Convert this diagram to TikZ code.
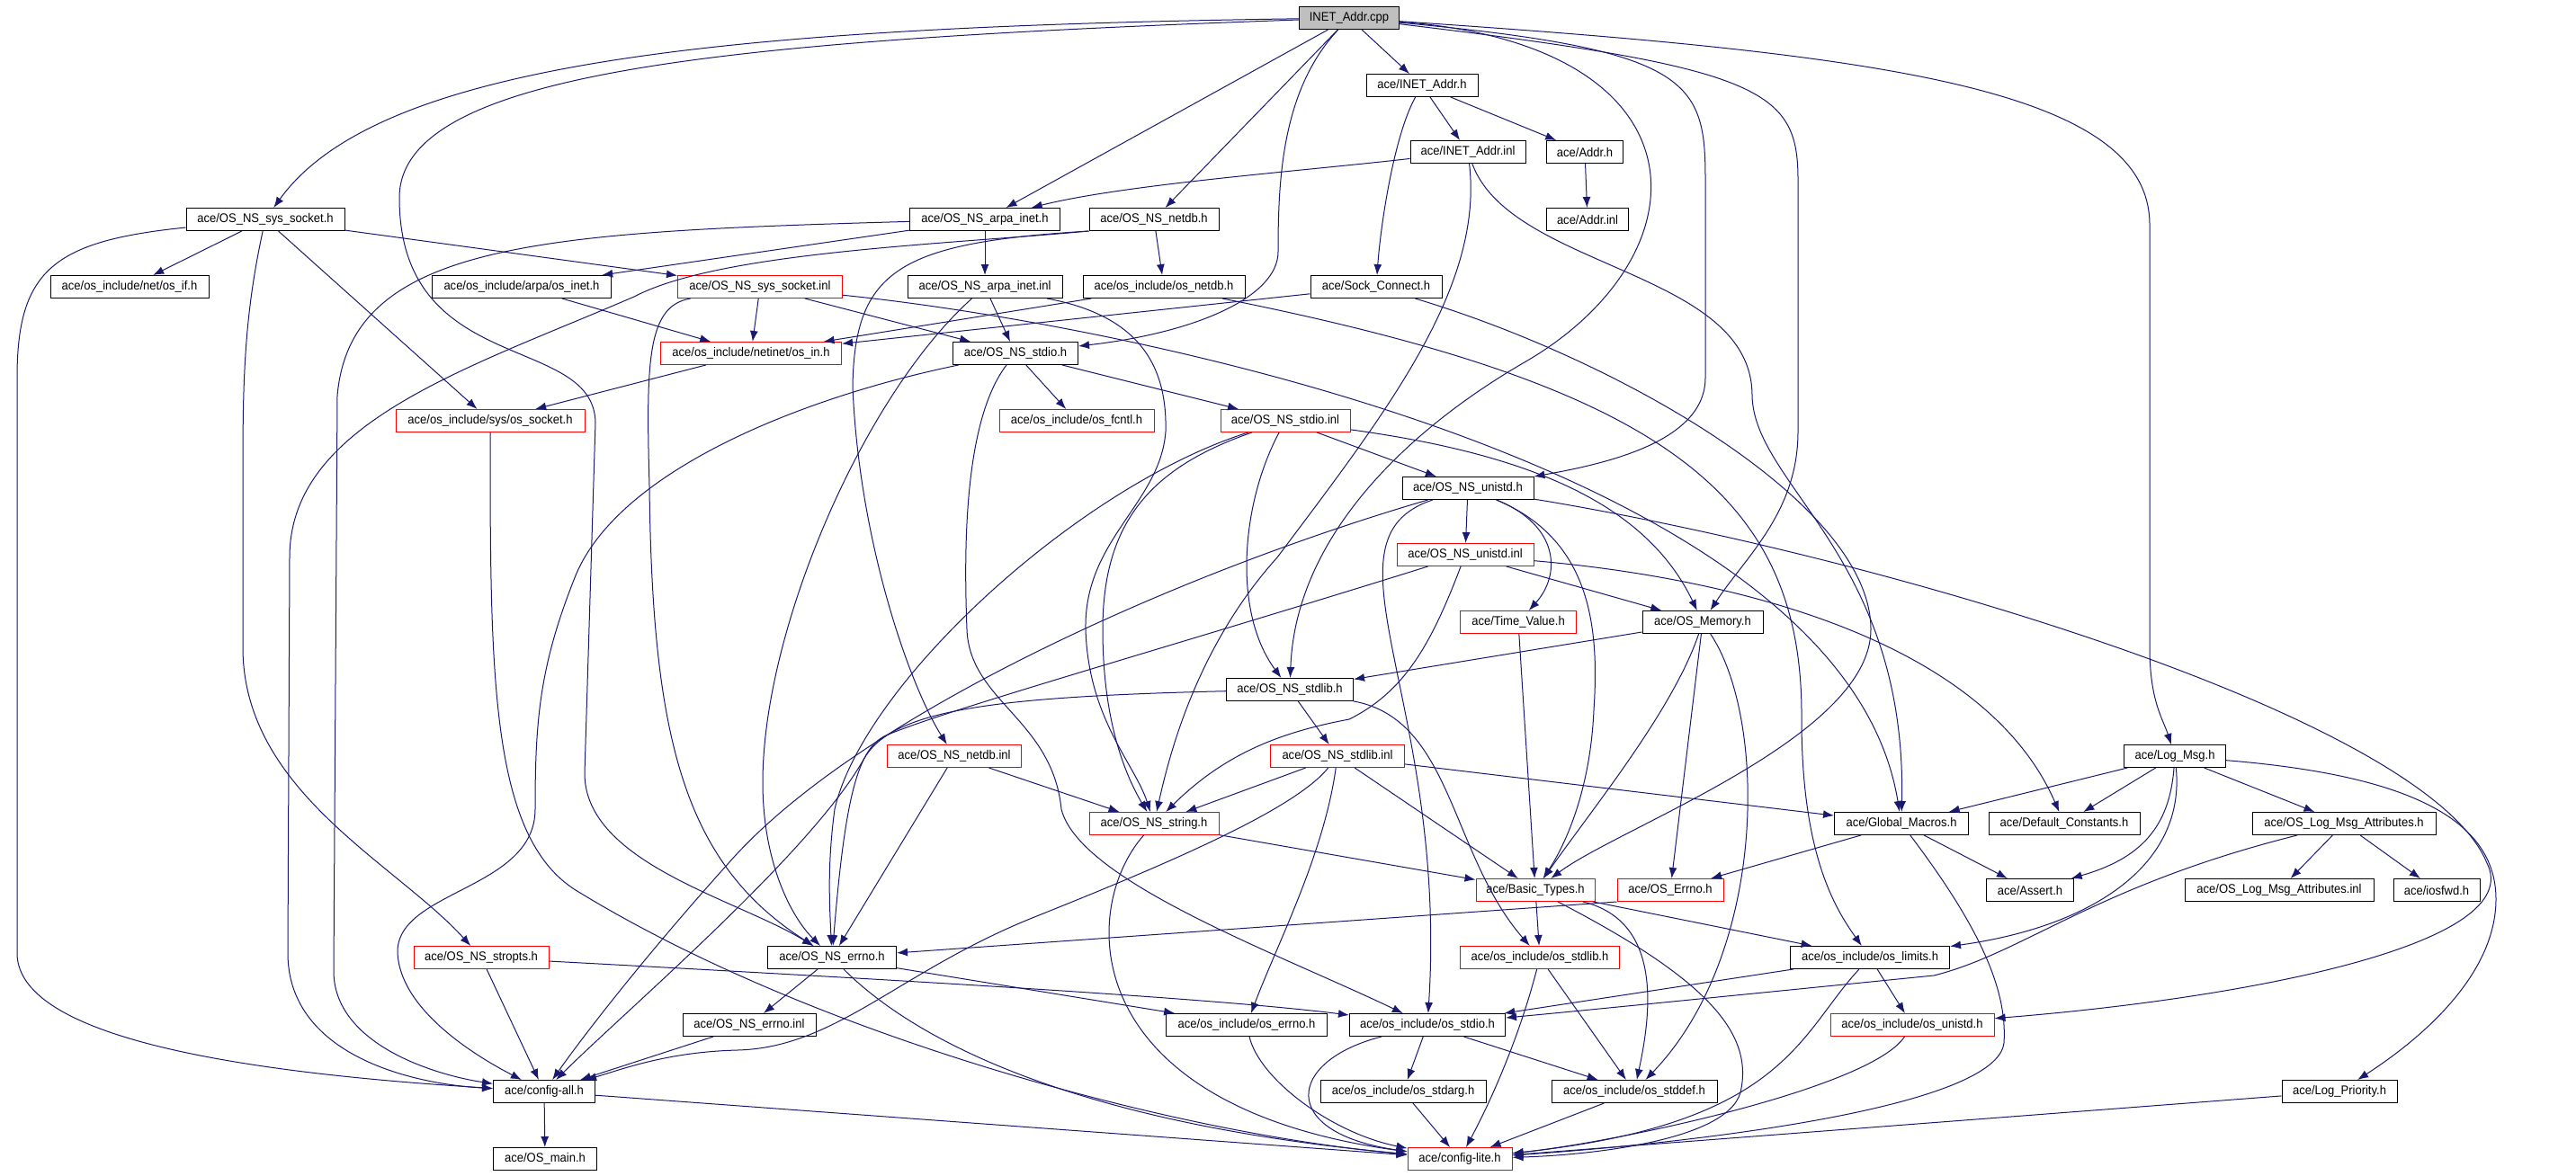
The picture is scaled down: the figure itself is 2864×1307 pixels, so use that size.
\documentclass[tikz,border=0pt]{standalone}
\usepackage{fontspec}
\setmainfont[FakeStretch=0.93]{Liberation Sans}
\usetikzlibrary{arrows.meta}
\definecolor{edgeblue}{RGB}{25,25,112}
\definecolor{rootgray}{RGB}{191,191,191}

\begin{document}
\begin{tikzpicture}[x=1pt,y=-1pt,
  hdr/.style={draw=black,line width=1pt,fill=white,minimum height=25pt,inner sep=0pt,font=\fontsize{14}{16}\selectfont},
  cut/.style={hdr,draw=red},
  wd/.style={minimum width=#1pt},
  inc/.style={draw=edgeblue,line width=1pt,-{Latex[length=12pt,width=9pt]}}]
\fill[white] (0,0) rectangle (2864,1307);
% files, row by row
\node[hdr,wd=111,fill=rootgray] (cpp) at (1500,20) {INET\_Addr.cpp};
\node[hdr,wd=124] (inetaddrh) at (1581,95) {ace/INET\_Addr.h};
\node[hdr,wd=128] (inetaddrinl) at (1632,169) {ace/INET\_Addr.inl};
\node[hdr,wd=85] (addrh) at (1762,169) {ace/Addr.h};
\node[hdr,wd=176] (syssockh) at (295,244) {ace/OS\_NS\_sys\_socket.h};
\node[hdr,wd=167] (arpah) at (1095,244) {ace/OS\_NS\_arpa\_inet.h};
\node[hdr,wd=144] (netdbh) at (1283,244) {ace/OS\_NS\_netdb.h};
\node[hdr,wd=91] (addrinl) at (1765,244) {ace/Addr.inl};
\node[hdr,wd=176] (osif) at (144,319) {ace/os\_include/net/os\_if.h};
\node[hdr,wd=199] (osinet) at (580,319) {ace/os\_include/arpa/os\_inet.h};
\node[cut,wd=183] (syssockinl) at (845,319) {ace/OS\_NS\_sys\_socket.inl};
\node[hdr,wd=172] (arpainl) at (1095,319) {ace/OS\_NS\_arpa\_inet.inl};
\node[hdr,wd=180] (osnetdb) at (1294,319) {ace/os\_include/os\_netdb.h};
\node[hdr,wd=146] (sockconn) at (1530,319) {ace/Sock\_Connect.h};
\node[cut,wd=201] (osin) at (835,393) {ace/os\_include/netinet/os\_in.h};
\node[hdr,wd=139] (stdioh) at (1129,393) {ace/OS\_NS\_stdio.h};
\node[cut,wd=210] (ossocket) at (545,468) {ace/os\_include/sys/os\_socket.h};
\node[cut,wd=172] (osfcntl) at (1197,468) {ace/os\_include/os\_fcntl.h};
\node[cut,wd=144] (stdioinl) at (1429,468) {ace/OS\_NS\_stdio.inl};
\node[hdr,wd=146] (unistdh) at (1632,543) {ace/OS\_NS\_unistd.h};
\node[cut,wd=152] (unistdinl) at (1629,617) {ace/OS\_NS\_unistd.inl};
\node[cut,wd=129] (timevalue) at (1688,692) {ace/Time\_Value.h};
\node[hdr,wd=134] (memory) at (1893,692) {ace/OS\_Memory.h};
\node[hdr,wd=141] (stdlibh) at (1434,767) {ace/OS\_NS\_stdlib.h};
\node[cut,wd=149] (netdbinl) at (1061,841) {ace/OS\_NS\_netdb.inl};
\node[cut,wd=149] (stdlibinl) at (1487,841) {ace/OS\_NS\_stdlib.inl};
\node[hdr,wd=113] (logmsg) at (2418,841) {ace/Log\_Msg.h};
\node[cut,wd=144] (stringh) at (1283,916) {ace/OS\_NS\_string.h};
\node[hdr,wd=149] (globmac) at (2114,916) {ace/Global\_Macros.h};
\node[hdr,wd=168] (defconst) at (2295,916) {ace/Default\_Constants.h};
\node[hdr,wd=204] (lmah) at (2606,916) {ace/OS\_Log\_Msg\_Attributes.h};
\node[cut,wd=132] (basictypes) at (1707,990) {ace/Basic\_Types.h};
\node[cut,wd=118] (oserrno) at (1857,990) {ace/OS\_Errno.h};
\node[hdr,wd=97] (asserth) at (2257,990) {ace/Assert.h};
\node[hdr,wd=210] (lmainl) at (2534,990) {ace/OS\_Log\_Msg\_Attributes.inl};
\node[hdr,wd=96] (iosfwd) at (2709,990) {ace/iosfwd.h};
\node[cut,wd=150] (stropts) at (535,1065) {ace/OS\_NS\_stropts.h};
\node[hdr,wd=143] (errnoh) at (925,1065) {ace/OS\_NS\_errno.h};
\node[cut,wd=177] (osstdlib) at (1712,1065) {ace/os\_include/os\_stdlib.h};
\node[hdr,wd=177] (oslimits) at (2079,1065) {ace/os\_include/os\_limits.h};
\node[hdr,wd=148] (errnoinl) at (833,1140) {ace/OS\_NS\_errno.inl};
\node[hdr,wd=179] (oserrnoh) at (1386,1140) {ace/os\_include/os\_errno.h};
\node[hdr,wd=173] (osstdio) at (1587,1140) {ace/os\_include/os\_stdio.h};
\node[cut,wd=182] (osunistd) at (2126,1140) {ace/os\_include/os\_unistd.h};
\node[hdr,wd=113] (configall) at (605,1214) {ace/config-all.h};
\node[hdr,wd=184] (osstdarg) at (1560,1214) {ace/os\_include/os\_stdarg.h};
\node[hdr,wd=184] (osstddef) at (1817,1214) {ace/os\_include/os\_stddef.h};
\node[hdr,wd=128] (logprio) at (2601,1214) {ace/Log\_Priority.h};
\node[hdr,wd=115] (osmain) at (606,1289) {ace/OS\_main.h};
\node[cut,wd=116] (configlite) at (1623,1289) {ace/config-lite.h};

% includes of INET_Addr.cpp
\draw[inc] (cpp) -- (inetaddrh);
\draw[inc] (cpp) .. controls (800,30) and (420,70) .. (syssockh);
\draw[inc] (cpp) .. controls (800,45) and (444,80) .. (444,220) .. controls (444,420) and (660,370) .. (662,470) -- (650,860) .. controls (650,960) and (820,1000) .. (errnoh);
\draw[inc] (cpp) -- (arpah);
\draw[inc] (cpp) -- (netdbh);
\draw[inc] (cpp) .. controls (1425,100) and (1421,200) .. (1421,280) .. controls (1421,330) and (1330,370) .. (stdioh);
\draw[inc] (cpp) .. controls (1900,50) and (1900,280) .. (1700,400) .. controls (1560,480) and (1440,600) .. (stdlibh);
\draw[inc] (cpp) .. controls (1880,55) and (1896,90) .. (1896,200) -- (1896,420) .. controls (1896,490) and (1790,515) .. (unistdh);
\draw[inc] (cpp) .. controls (1960,75) and (1999,100) .. (1999,200) -- (1999,480) .. controls (1999,570) and (1940,620) .. (memory);
\draw[inc] (cpp) .. controls (2100,60) and (2390,100) .. (2390,250) -- (2390,720) .. controls (2390,780) and (2405,800) .. (logmsg);

\draw[inc] (inetaddrh) -- (inetaddrinl);
\draw[inc] (inetaddrh) -- (addrh);
\draw[inc] (inetaddrh) .. controls (1550,150) and (1535,250) .. (sockconn);
\draw[inc] (addrh) -- (addrinl);
\draw[inc] (inetaddrinl) .. controls (1450,190) and (1250,205) .. (arpah);
\draw[inc] (inetaddrinl) .. controls (1650,320) and (1540,460) .. (1420,620) .. controls (1330,720) and (1300,840) .. (stringh);
\draw[inc] (inetaddrinl) .. controls (1680,300) and (1948,300) .. (1948,440) .. controls (1950,540) and (2120,620) .. (globmac);
\draw[inc] (sockconn) -- (osin);
\draw[inc] (sockconn) .. controls (1800,400) and (2080,560) .. (2080,700) .. controls (2080,820) and (1800,920) .. (basictypes);

% sockets, arpa, netdb
\draw[inc] (syssockh) -- (osif);
\draw[inc] (syssockh) -- (syssockinl);
\draw[inc] (syssockh) -- (ossocket);
\draw[inc] (syssockh) .. controls (272,350) and (270,420) .. (270,520) -- (270,720) .. controls (270,880) and (440,960) .. (stropts);
\draw[inc] (syssockh) .. controls (60,268) and (19,300) .. (19,420) -- (19,1060) .. controls (19,1160) and (300,1195) .. (configall);
\draw[inc] (arpah) -- (osinet);
\draw[inc] (arpah) -- (arpainl);
\draw[inc] (arpah) .. controls (600,258) and (390,270) .. (375,440) -- (371,1080) .. controls (371,1160) and (480,1195) .. (configall);
\draw[inc] (netdbh) -- (osnetdb);
\draw[inc] (netdbh.south west) .. controls (1000,270) and (950,300) .. (948,430) .. controls (955,600) and (1010,760) .. (netdbinl);
\draw[inc] (netdbh.south west) .. controls (1050,272) and (800,280) .. (705,330) .. controls (520,410) and (322,470) .. (322,620) -- (320,1060) .. controls (320,1170) and (450,1205) .. (configall);
\draw[inc] (syssockinl) -- (osin);
\draw[inc] (syssockinl) -- (stdioh);
\draw[inc] (syssockinl) .. controls (720,340) and (718,400) .. (722,540) .. controls (725,820) and (760,960) .. (errnoh);
\draw[inc] (syssockinl) .. controls (1250,360) and (2050,520) .. (globmac);
\draw[inc] (arpainl) -- (stdioh);
\draw[inc] (arpainl) .. controls (960,440) and (848,700) .. (848,870) .. controls (848,960) and (880,1020) .. (errnoh);
\draw[inc] (arpainl) .. controls (1260,350) and (1298,400) .. (1296,480) .. controls (1290,560) and (1205,600) .. (1207,700) .. controls (1210,800) and (1262,850) .. (stringh);
\draw[inc] (osinet) -- (osin);
\draw[inc] (osnetdb) -- (osin);
\draw[inc] (osnetdb) .. controls (1850,430) and (2005,550) .. (2003,800) .. controls (2003,950) and (2040,1010) .. (oslimits);
\draw[inc] (osin) -- (ossocket);
\draw[inc] (ossocket) .. controls (545,750) and (545,930) .. (640,990) .. controls (900,1150) and (1300,1260) .. (configlite);

% stdio, unistd, stdlib
\draw[inc] (stdioh) -- (osfcntl);
\draw[inc] (stdioh) -- (stdioinl);
\draw[inc] (stdioh) .. controls (1070,470) and (1072,620) .. (1075,700) .. controls (1078,780) and (1170,800) .. (1180,900) .. controls (1200,980) and (1420,1060) .. (osstdio);
\draw[inc] (stdioh) .. controls (900,440) and (690,520) .. (640,640) .. controls (600,740) and (595,800) .. (595,900) .. controls (595,990) and (440,990) .. (442,1060) .. controls (445,1120) and (520,1170) .. (configall);
\draw[inc] (stdioinl) -- (unistdh);
\draw[inc] (stdioinl) .. controls (1380,560) and (1370,680) .. (stdlibh);
\draw[inc] (stdioinl) .. controls (1700,505) and (1830,560) .. (memory);
\draw[inc] (stdioinl) .. controls (1280,520) and (1226,580) .. (1226,700) .. controls (1226,800) and (1250,860) .. (stringh);
\draw[inc] (stdioinl) .. controls (1200,540) and (960,760) .. (928,900) .. controls (920,960) and (922,1000) .. (errnoh);
\draw[inc] (unistdh) -- (unistdinl);
\draw[inc] (unistdh) .. controls (1735,585) and (1735,640) .. (timevalue);
\draw[inc] (unistdh) .. controls (1770,600) and (1778,700) .. (1772,790) .. controls (1768,880) and (1740,940) .. (basictypes);
\draw[inc] (unistdh) .. controls (1460,600) and (1610,780) .. (osstdio);
\draw[inc] (unistdh) .. controls (2100,620) and (2700,800) .. (2765,960) .. controls (2810,1050) and (2500,1110) .. (osunistd);
\draw[inc] (unistdh) .. controls (1300,640) and (950,800) .. (810,960) .. controls (720,1060) and (650,1150) .. (configall);
\draw[inc] (unistdinl) -- (memory);
\draw[inc] (unistdinl) .. controls (1300,720) and (1050,790) .. (985,818) .. controls (955,832) and (940,880) .. (errnoh);
\draw[inc] (unistdinl) .. controls (1950,645) and (2210,720) .. (defconst);
\draw[inc] (unistdinl) .. controls (1590,720) and (1560,770) .. (1500,800) .. controls (1420,815) and (1360,840) .. (stringh);
\draw[inc] (timevalue) -- (basictypes);
\draw[inc] (memory) -- (stdlibh);
\draw[inc] (memory) .. controls (1860,790) and (1770,900) .. (basictypes);
\draw[inc] (memory) -- (oserrno);
\draw[inc] (memory) .. controls (1965,800) and (1965,1060) .. (osstddef);
\draw[inc] (stdlibh) -- (stdlibinl);
\draw[inc] (stdlibh) .. controls (1615,800) and (1612,950) .. (osstdlib);
\draw[inc] (stdlibh) .. controls (1100,775) and (990,790) .. (960,845) .. controls (900,950) and (700,1120) .. (configall);
\draw[inc] (netdbinl) -- (errnoh);
\draw[inc] (netdbinl) -- (stringh);
\draw[inc] (stdlibinl) -- (stringh);
\draw[inc] (stdlibinl) -- (basictypes);
\draw[inc] (stdlibinl) -- (globmac);
\draw[inc] (stdlibinl) .. controls (1472,950) and (1420,1050) .. (oserrnoh);
\draw[inc] (stdlibinl) .. controls (1440,900) and (1300,960) .. (1150,1020) .. controls (1000,1080) and (930,1165) .. (820,1168) .. controls (740,1170) and (690,1190) .. (configall);

% Log_Msg and the macros
\draw[inc] (logmsg) -- (globmac);
\draw[inc] (logmsg) -- (defconst);
\draw[inc] (logmsg) .. controls (2412,920) and (2380,955) .. (asserth);
\draw[inc] (logmsg) .. controls (2430,960) and (2330,1030) .. (oslimits);
\draw[inc] (logmsg) -- (lmah);
\draw[inc] (logmsg) .. controls (2650,860) and (2775,900) .. (2775,1000) .. controls (2775,1080) and (2700,1150) .. (logprio);
\draw[inc] (stringh) -- (basictypes);
\draw[inc] (stringh) .. controls (1200,1010) and (1195,1230) .. (configlite);
\draw[inc] (globmac) -- (oserrno);
\draw[inc] (globmac) -- (asserth);
\draw[inc] (globmac) .. controls (2200,1030) and (2232,1100) .. (2228,1160) .. controls (2220,1230) and (1900,1270) .. (configlite);
\draw[inc] (lmah) -- (lmainl);
\draw[inc] (lmah) -- (iosfwd);
\draw[inc] (lmah) .. controls (2330,985) and (2250,1060) .. (2150,1085) .. controls (1950,1105) and (1750,1125) .. (osstdio);
\draw[inc] (basictypes) -- (osstdlib);
\draw[inc] (basictypes) -- (oslimits);
\draw[inc] (basictypes) .. controls (1850,1025) and (1835,1130) .. (osstddef);
\draw[inc] (basictypes) .. controls (1900,1090) and (1950,1150) .. (1935,1215) .. controls (1920,1270) and (1760,1285) .. (configlite);
\draw[inc] (oserrno.south west) -- (errnoh);

% bottom rows
\draw[inc] (stropts) -- (configall);
\draw[inc] (stropts) .. controls (1000,1090) and (1350,1110) .. (osstdio);
\draw[inc] (errnoh) -- (errnoinl);
\draw[inc] (errnoh) -- (oserrnoh);
\draw[inc] (errnoh) .. controls (1020,1160) and (1200,1250) .. (configlite);
\draw[inc] (osstdlib) -- (osstddef);
\draw[inc] (osstdlib) .. controls (1690,1150) and (1660,1220) .. (configlite);
\draw[inc] (oslimits) -- (osstdio);
\draw[inc] (oslimits) -- (osunistd);
\draw[inc] (oslimits) .. controls (2000,1150) and (1985,1250) .. (configlite);
\draw[inc] (errnoinl) -- (configall);
\draw[inc] (oserrnoh) .. controls (1400,1200) and (1480,1260) .. (configlite);
\draw[inc] (osstdio) -- (osstdarg);
\draw[inc] (osstdio) -- (osstddef);
\draw[inc] (osstdio) .. controls (1430,1180) and (1420,1260) .. (configlite);
\draw[inc] (osunistd) .. controls (2080,1210) and (1800,1270) .. (configlite);
\draw[inc] (configall) -- (osmain);
\draw[inc] (configall) -- (configlite);
\draw[inc] (osstdarg) -- (configlite);
\draw[inc] (osstddef) -- (configlite);
\draw[inc] (logprio) -- (configlite);
\end{tikzpicture}
\end{document}
